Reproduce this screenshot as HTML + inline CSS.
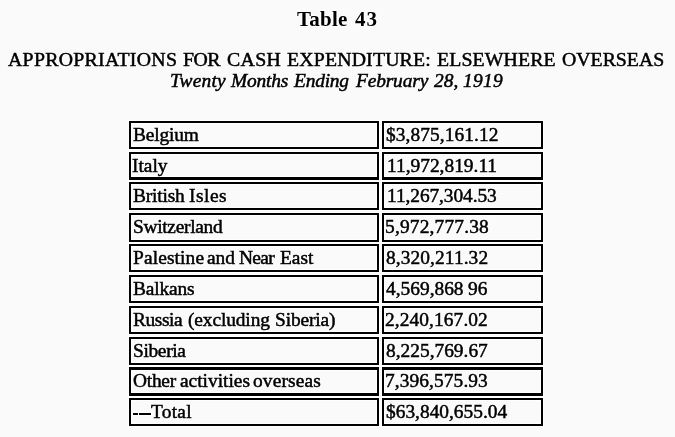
<!DOCTYPE html>
<html><head><meta charset="utf-8"><title>Table 43</title><style>
html,body{margin:0;padding:0;background:#fafafa;}
body{width:675px;height:437px;overflow:hidden;position:relative;font-family:"Liberation Serif",serif;color:#000;}
.b{position:absolute;box-sizing:border-box;border:2px solid #000;box-shadow:0 0 0 1px #fff,inset 0 0 0 1px #fff;}
.r{position:absolute;background:#000;box-shadow:0 0 0 1px #fff;}
.t{position:absolute;white-space:pre;line-height:20px;will-change:transform;-webkit-text-stroke:0.5px #000;text-shadow:1px 0 #fff,-1px 0 #fff,0 1px #fff,0 -1px #fff;}
</style></head><body>
<div class="b" style="left:129px;top:121px;width:250px;height:28px;border-width:2px 2px 2px 2px"></div>
<div class="b" style="left:382px;top:121px;width:161px;height:28px;border-width:2px 2px 2px 2px"></div>
<div class="b" style="left:129px;top:152px;width:250px;height:28px;border-width:2px 2px 3px 2px"></div>
<div class="b" style="left:382px;top:152px;width:161px;height:28px;border-width:2px 2px 3px 2px"></div>
<div class="b" style="left:129px;top:182px;width:250px;height:28px;border-width:2px 2px 2px 2px"></div>
<div class="b" style="left:382px;top:182px;width:161px;height:28px;border-width:2px 2px 2px 2px"></div>
<div class="b" style="left:129px;top:213px;width:250px;height:29px;border-width:2px 2px 2px 2px"></div>
<div class="b" style="left:382px;top:213px;width:161px;height:29px;border-width:2px 2px 2px 2px"></div>
<div class="b" style="left:129px;top:244px;width:250px;height:28px;border-width:2px 2px 2px 2px"></div>
<div class="b" style="left:382px;top:244px;width:161px;height:28px;border-width:2px 2px 2px 2px"></div>
<div class="b" style="left:129px;top:275px;width:250px;height:28px;border-width:2px 2px 2px 2px"></div>
<div class="b" style="left:382px;top:275px;width:161px;height:28px;border-width:2px 2px 2px 2px"></div>
<div class="b" style="left:129px;top:306px;width:250px;height:28px;border-width:2px 2px 2px 2px"></div>
<div class="b" style="left:382px;top:306px;width:161px;height:28px;border-width:2px 2px 2px 2px"></div>
<div class="b" style="left:129px;top:337px;width:250px;height:28px;border-width:2px 2px 2px 2px"></div>
<div class="b" style="left:382px;top:337px;width:161px;height:28px;border-width:2px 2px 2px 2px"></div>
<div class="b" style="left:129px;top:367px;width:250px;height:29px;border-width:3px 2px 3px 2px"></div>
<div class="b" style="left:382px;top:367px;width:161px;height:29px;border-width:3px 2px 3px 2px"></div>
<div class="b" style="left:129px;top:398px;width:250px;height:28px;border-width:2px 2px 2px 2px"></div>
<div class="b" style="left:382px;top:398px;width:161px;height:28px;border-width:2px 2px 2px 2px"></div>
<div class="r" style="left:133px;top:413px;width:5px;height:2px"></div>
<div class="r" style="left:139px;top:413px;width:12px;height:2px"></div>
<div class="t" style="left:133px;top:125px;font-size:19.4px;letter-spacing:-0.167px">Belgium</div>
<div class="t" style="left:132px;top:156px;font-size:19.4px;letter-spacing:0.0px">Italy</div>
<div class="t" style="left:133px;top:186px;font-size:19.4px;letter-spacing:-0.167px">British</div>
<div class="t" style="left:189px;top:186px;font-size:19.4px;letter-spacing:0.5px">Isles</div>
<div class="t" style="left:133px;top:217px;font-size:19.4px;letter-spacing:-0.3px">Switzerland</div>
<div class="t" style="left:133px;top:248px;font-size:19.4px;letter-spacing:0.125px">Palestine</div>
<div class="t" style="left:207px;top:248px;font-size:19.4px;letter-spacing:0.0px">and</div>
<div class="t" style="left:239px;top:248px;font-size:19.4px;letter-spacing:-0.667px">Near</div>
<div class="t" style="left:280px;top:248px;font-size:19.4px;letter-spacing:0.0px">East</div>
<div class="t" style="left:133px;top:279px;font-size:19.4px;letter-spacing:-0.167px">Balkans</div>
<div class="t" style="left:133px;top:310px;font-size:19.4px;letter-spacing:-0.4px">Russia</div>
<div class="t" style="left:188px;top:310px;font-size:19.4px;letter-spacing:-0.111px">(excluding</div>
<div class="t" style="left:275px;top:310px;font-size:19.4px;letter-spacing:-0.143px">Siberia)</div>
<div class="t" style="left:133px;top:341px;font-size:19.4px;letter-spacing:-0.333px">Siberia</div>
<div class="t" style="left:133px;top:371px;font-size:19.4px;letter-spacing:-0.25px">Other</div>
<div class="t" style="left:180px;top:371px;font-size:19.4px;letter-spacing:0.0px">activities</div>
<div class="t" style="left:253px;top:371px;font-size:19.4px;letter-spacing:0.143px">overseas</div>
<div class="t" style="left:151px;top:402px;font-size:19.4px;letter-spacing:0.25px">Total</div>
<div class="t" style="left:386px;top:125px;font-size:19.4px;letter-spacing:0.083px">$3,875,161.12</div>
<div class="t" style="left:387px;top:156px;font-size:19.4px;letter-spacing:0.0px">11,972,819.11</div>
<div class="t" style="left:387px;top:186px;font-size:19.4px;letter-spacing:-0.083px">11,267,304.53</div>
<div class="t" style="left:385px;top:217px;font-size:19.4px;letter-spacing:0.182px">5,972,777.38</div>
<div class="t" style="left:386px;top:248px;font-size:19.4px;letter-spacing:0.091px">8,320,211.32</div>
<div class="t" style="left:385px;top:310px;font-size:19.4px;letter-spacing:0.091px">2,240,167.02</div>
<div class="t" style="left:386px;top:341px;font-size:19.4px;letter-spacing:0.0px">8,225,769.67</div>
<div class="t" style="left:385px;top:371px;font-size:19.4px;letter-spacing:0.091px">7,396,575.93</div>
<div class="t" style="left:386px;top:402px;font-size:19.4px;letter-spacing:0.0px">$63,840,655.04</div>
<div class="t" style="left:386px;top:279px;font-size:19.4px;letter-spacing:0.0px">4,569,868</div>
<div class="t" style="left:468px;top:279px;font-size:19.4px;letter-spacing:0.0px">96</div>
<div class="t" style="left:297px;top:9px;font-size:21px;font-weight:bold;-webkit-text-stroke:0px #000;letter-spacing:0.25px">Table</div>
<div class="t" style="left:355px;top:9px;font-size:21px;font-weight:bold;-webkit-text-stroke:0px #000;letter-spacing:1.0px">43</div>
<div class="t" style="left:8px;top:49px;font-size:19.8px;letter-spacing:0.308px">APPROPRIATIONS</div>
<div class="t" style="left:183px;top:49px;font-size:19.8px;letter-spacing:-0.5px">FOR</div>
<div class="t" style="left:227px;top:49px;font-size:19.8px;letter-spacing:0.333px">CASH</div>
<div class="t" style="left:287px;top:49px;font-size:19.8px;letter-spacing:0.182px">EXPENDITURE:</div>
<div class="t" style="left:437px;top:49px;font-size:19.8px;letter-spacing:0.125px">ELSEWHERE</div>
<div class="t" style="left:562px;top:49px;font-size:19.8px;letter-spacing:0.0px">OVERSEAS</div>
<div class="t" style="left:170px;top:71px;font-size:19.4px;font-style:italic;letter-spacing:0.2px">Twenty</div>
<div class="t" style="left:231px;top:71px;font-size:19.4px;font-style:italic;letter-spacing:-0.2px">Months</div>
<div class="t" style="left:294px;top:71px;font-size:19.4px;font-style:italic;letter-spacing:-0.2px">Ending</div>
<div class="t" style="left:356px;top:71px;font-size:19.4px;font-style:italic;letter-spacing:-0.143px">February</div>
<div class="t" style="left:434px;top:71px;font-size:19.4px;font-style:italic;letter-spacing:0.0px">28,</div>
<div class="t" style="left:463px;top:71px;font-size:19.4px;font-style:italic;letter-spacing:0.333px">1919</div>
</body></html>
